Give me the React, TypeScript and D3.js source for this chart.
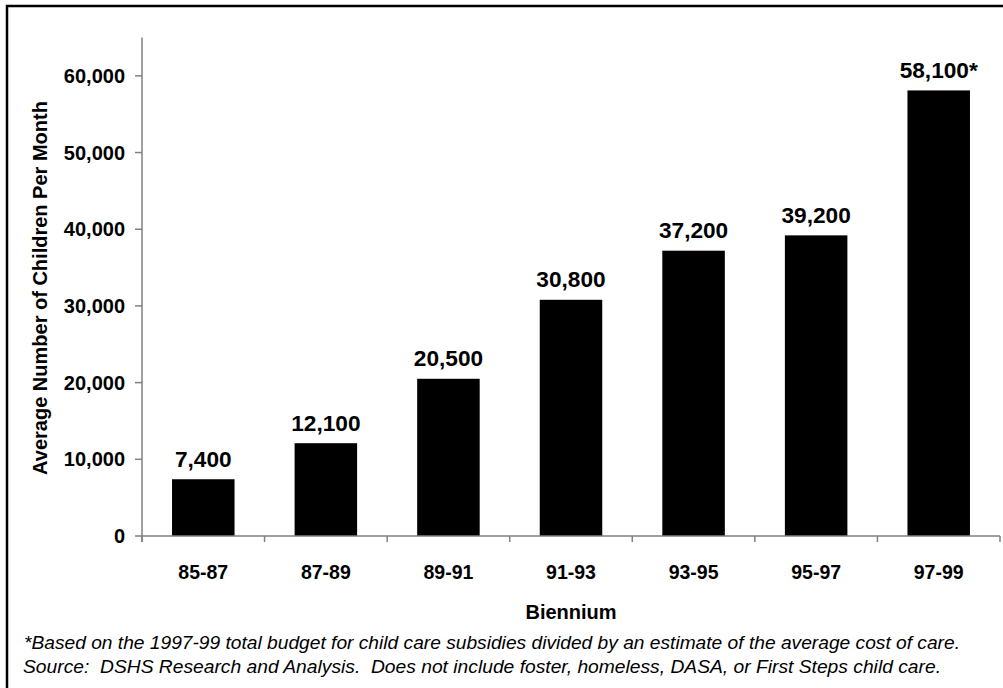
import React from "react";
import * as d3 from "d3";

const categories = ["85-87", "87-89", "89-91", "91-93", "93-95", "95-97", "97-99"];
const values = [7400, 12100, 20500, 30800, 37200, 39200, 58100];
const valueLabels = ["7,400", "12,100", "20,500", "30,800", "37,200", "39,200", "58,100*"];
const yTicks = [0, 10000, 20000, 30000, 40000, 50000, 60000];
const yTitle = "Average Number of Children Per Month";
const xTitle = "Biennium";
const footnotes = [
  "*Based on the 1997-99 total budget for child care subsidies divided by an estimate of the average cost of care.",
  "Source:  DSHS Research and Analysis.  Does not include foster, homeless, DASA, or First Steps child care.",
];

const W = 1003;
const H = 688;
const plot = { left: 142, right: 1000, top: 37.5, bottom: 536 };
const FONT = "Arial, 'Liberation Sans', Helvetica, sans-serif";
const AXIS = "#808080";

export default function App() {
  const x = d3
    .scaleBand<string>()
    .domain(categories)
    .range([plot.left, plot.right])
    .paddingInner(0.49)
    .paddingOuter(0.245);
  const step = x.step();
  const y = d3.scaleLinear().domain([0, 65000]).range([plot.bottom, plot.top]);
  const fmt = d3.format(",");
  const boundaries = d3.range(categories.length + 1).map((i) => plot.left + i * step);

  return (
    <svg
      width={W}
      height={H}
      style={{ position: "absolute", left: 0, top: 0, background: "#fff" }}
      fontFamily={FONT}
    >
      <rect x={0} y={0} width={W} height={H} fill="#fff" />
      <rect x={7} y={6} width={W + 20} height={H + 20} fill="none" stroke="#000" strokeWidth={2.5} />

      {/* bars */}
      {values.map((v, i) => (
        <rect
          key={categories[i]}
          x={x(categories[i])}
          y={y(v)}
          width={x.bandwidth()}
          height={y(0) - y(v)}
          fill="#000"
        />
      ))}

      {/* value labels */}
      {values.map((v, i) => (
        <text
          key={"v" + i}
          transform={`translate(${(x(categories[i]) as number) + x.bandwidth() / 2},${y(v) - 12.5}) scale(1.03,1)`}
          textAnchor="middle"
          fontSize={22}
          fontWeight="bold"
          fill="#000"
        >
          {valueLabels[i]}
        </text>
      ))}

      {/* y axis */}
      <line x1={plot.left} x2={plot.left} y1={plot.top} y2={plot.bottom + 6} stroke={AXIS} strokeWidth={1.5} />
      {yTicks.map((t) => (
        <g key={t}>
          <line x1={plot.left - 7} x2={plot.left} y1={y(t)} y2={y(t)} stroke={AXIS} strokeWidth={1.5} />
          <text
            x={125}
            y={y(t) + 7}
            textAnchor="end"
            fontSize={20}
            fontWeight="bold"
            fill="#000"
          >
            {fmt(t)}
          </text>
        </g>
      ))}

      {/* x axis */}
      <line x1={plot.left} x2={plot.right} y1={plot.bottom} y2={plot.bottom} stroke={AXIS} strokeWidth={1.5} />
      {boundaries.map((b, i) => (
        <line key={"xt" + i} x1={b} x2={b} y1={plot.bottom} y2={plot.bottom + 6} stroke={AXIS} strokeWidth={1.5} />
      ))}
      {categories.map((c) => (
        <text
          key={"xl" + c}
          x={(x(c) as number) + x.bandwidth() / 2}
          y={579}
          textAnchor="middle"
          fontSize={19.5}
          fontWeight="bold"
          fill="#000"
        >
          {c}
        </text>
      ))}

      {/* axis titles */}
      <text x={571} y={619} textAnchor="middle" fontSize={20} fontWeight="bold" fill="#000">
        {xTitle}
      </text>
      <text
        transform={`translate(${47},${288}) rotate(-90)`}
        textAnchor="middle"
        fontSize={20}
        fontWeight="bold"
        fill="#000"
      >
        {yTitle}
      </text>

      {/* footnotes */}
      <text
        x={24}
        y={649}
        fontSize={18}
        fontStyle="italic"
        fill="#000"
        textLength={936}
        lengthAdjust="spacingAndGlyphs"
        style={{ whiteSpace: "pre" }}
      >
        {footnotes[0]}
      </text>
      <text
        x={23}
        y={673}
        fontSize={18}
        fontStyle="italic"
        fill="#000"
        textLength={918}
        lengthAdjust="spacingAndGlyphs"
        style={{ whiteSpace: "pre" }}
      >
        {footnotes[1]}
      </text>
    </svg>
  );
}
